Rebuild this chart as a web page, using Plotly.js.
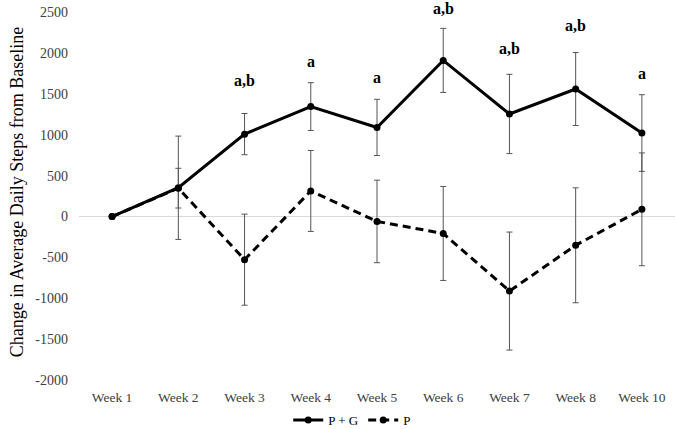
<!DOCTYPE html>
<html>
<head>
<meta charset="utf-8">
<script src="https://cdn.plot.ly/plotly-3.0.1.min.js"></script>
<style>html,body{margin:0;padding:0;background:#fff;}#chart{width:675px;height:429px;}</style>
</head>
<body>
<div id="chart"></div>
<script>
var weeks = ["Week 1","Week 2","Week 3","Week 4","Week 5","Week 6","Week 7","Week 8","Week 10"];
var pgValues = [0, 352, 1008, 1345, 1090, 1910, 1255, 1560, 1021];
var pgErrors = [0, 632, 252, 292, 344, 392, 485, 446, 469];
var pValues = [0, 347, -528, 313, -60, -207, -912, -352, 88];
var pErrors = [0, 243, 557, 495, 505, 575, 722, 703, 690];
var sigLabels = ["", "", "a,b", "a", "a", "a,b", "a,b", "a,b", "a"];
var sigHeights = [null, null, 1665, 1901, 1705, 2541, 2052, 2337, 1755];
var yTickValues = [-2000, -1500, -1000, -500, 0, 500, 1000, 1500, 2000, 2500];
var yTickLabels = ["-2000", "-1500", "-1000", "-500", "0", "500", "1000", "1500", "2000", "2500"];

var font = "Liberation Serif, Times New Roman, serif";

var traces = [
  {
    x: weeks, y: pgValues, name: "P + G", type: "scatter", mode: "lines+markers",
    line: {color: "#000", width: 3},
    marker: {color: "#000", size: 7},
    error_y: {type: "data", array: pgErrors, visible: true, color: "#555", thickness: 1, width: 3}
  },
  {
    x: weeks, y: pValues, name: "P", type: "scatter", mode: "lines+markers",
    line: {color: "#000", width: 3, dash: "8px,5px"},
    marker: {color: "#000", size: 7},
    error_y: {type: "data", array: pErrors, visible: true, color: "#555", thickness: 1, width: 3}
  }
];

var annotations = [];
for (var i = 0; i < weeks.length; i++) {
  if (sigLabels[i]) {
    annotations.push({
      x: weeks[i], y: sigHeights[i], xref: "x", yref: "y",
      text: "<b>" + sigLabels[i] + "</b>", showarrow: false,
      font: {family: font, size: 16, color: "#000"}
    });
  }
}

var layout = {
  width: 675, height: 429,
  margin: {l: 79, r: 0, t: 3.5, b: 49, autoexpand: false},
  paper_bgcolor: "#fff", plot_bgcolor: "#fff",
  showlegend: true,
  legend: {
    orientation: "h", xref: "container", yref: "container",
    x: 0.427, xanchor: "left", y: 0.021, yanchor: "middle",
    font: {family: font, size: 13, color: "#000"}, itemwidth: 30
  },
  xaxis: {
    type: "category", range: [-0.5, 8.5], showgrid: false, showline: false, zeroline: false,
    ticks: "", ticklabelstandoff: 7, automargin: false,
    tickfont: {family: font, size: 13.5, color: "#404040"}
  },
  yaxis: {
    range: [-2000, 2600], tickmode: "array", tickvals: yTickValues, ticktext: yTickLabels,
    showgrid: false, showline: false,
    zeroline: true, zerolinecolor: "#d9d9d9", zerolinewidth: 1.5,
    ticks: "", ticklabelstandoff: 10, automargin: false,
    tickfont: {family: font, size: 14, color: "#404040"},
    title: {text: "Change in Average Daily Steps from Baseline", font: {family: font, size: 18, color: "#000"}, standoff: 7}
  },
  annotations: annotations
};

Plotly.newPlot("chart", traces, layout, {staticPlot: true, displayModeBar: false});
</script>
</body>
</html>
